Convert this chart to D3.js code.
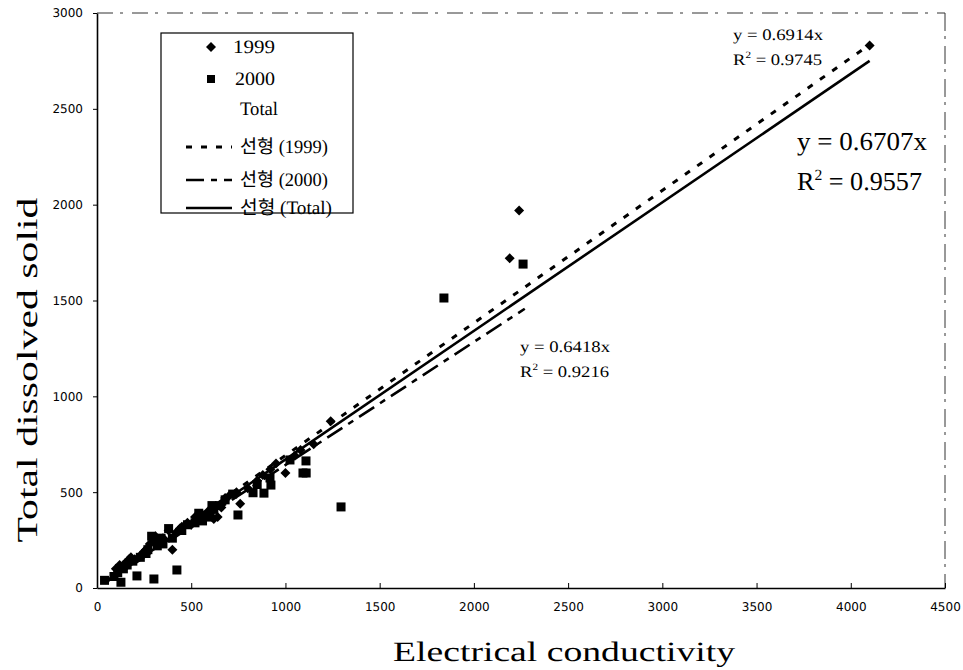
<!DOCTYPE html>
<html><head><meta charset="utf-8">
<script src="https://cdn.jsdelivr.net/npm/d3@7"></script>
<style>body{margin:0;background:#fff} text{text-rendering:geometricPrecision}</style>
</head><body>
<svg id="chart" width="963" height="670"></svg>
<script>
// ---------- data ----------
const xTicks = [0,500,1000,1500,2000,2500,3000,3500,4000,4500];
const yTicks = [0,500,1000,1500,2000,2500,3000];
const ec1999  = [100,120,150,170,200,230,260,280,300,330,350,380,400,420,450,480,500,530,560,590,620,640,660,700,740,760,800,850,880,920,950,1000,1050,1080,1150,1240,2190,2240,4100,180,250,310,360,440,520,600,680];
const tds1999 = [100,120,130,150,150,170,200,230,250,240,260,300,200,290,320,340,330,360,380,400,360,370,420,480,500,440,520,560,590,620,650,600,690,720,750,870,1720,1970,2830,160,190,270,250,310,370,400,470];
const ec2000  = [40,90,110,127,140,160,190,212,230,260,290,302,320,350,400,424,450,480,520,560,580,600,620,650,680,720,748,828,850,886,918,923,1024,1093,1110,1109,1295,1841,2261,270,340,380,540,610];
const tds2000 = [40,60,80,30,100,120,140,63,160,180,270,47,220,230,260,94,300,330,340,350,380,370,410,430,460,490,381,497,540,495,574,537,668,600,600,663,423,1513,1690,200,260,310,390,430];
const slopes = {s1999:0.6914, s2000:0.6418, total:0.6707};
const fitRange = {s1999:[60,4100], s2000:[40,2270], total:[40,4100]};
const legendLabels = ["1999","2000","Total","선형 (1999)","선형 (2000)","선형 (Total)"];
const xTitle = "Electrical conductivity";
const yTitle = "Total dissolved solid";

// ---------- drawing ----------
const svg = d3.select("#chart");
const x = d3.scaleLinear().domain([0,4500]).range([97,945]);
const y = d3.scaleLinear().domain([0,3000]).range([588,13]);
const serif = "'Liberation Serif','Times New Roman',serif";
const sans = "'DejaVu Sans',sans-serif";

// text fitted to a target width by horizontal scaling
function fitText(parent, tx, ty, rot, width, size, anchor, family){
  const g = parent.append("g");
  const t = g.append("text").attr("font-family",family||serif).attr("font-size",size)
    .attr("fill","#000").attr("text-anchor",anchor||"start");
  return {t, done(){
    const w = t.node().getComputedTextLength();
    const s = width / w;
    g.attr("transform",`translate(${tx},${ty}) rotate(${rot}) scale(${s},1)`);
  }};
}

// frame (scanned-looking top & right)
svg.append("line").attr("x1",97).attr("x2",945).attr("y1",13).attr("y2",13)
  .attr("stroke","#333").attr("stroke-width",1).attr("stroke-dasharray","16,7,3,9");
svg.append("line").attr("x1",945).attr("x2",945).attr("y1",13).attr("y2",588)
  .attr("stroke","#333").attr("stroke-width",1).attr("stroke-dasharray","18,5,3,7");

// axes
const fmt = d3.format("d");
const xAxis = d3.axisBottom(x).tickValues(xTicks).tickFormat(fmt).tickSizeInner(-5).tickSizeOuter(0).tickPadding(14);
const gx = svg.append("g").attr("transform","translate(0,588)").call(xAxis);
gx.select(".domain").attr("stroke","#000").attr("stroke-width",1.6);
gx.selectAll(".tick line").attr("stroke","#000");
gx.selectAll("text").attr("font-family",sans).attr("font-size",12).attr("fill","#000");

const yAxis = d3.axisLeft(y).tickValues(yTicks).tickFormat(fmt).tickSizeInner(4).tickSizeOuter(0).tickPadding(10);
const gy = svg.append("g").attr("transform","translate(97,0)").call(yAxis);
gy.select(".domain").attr("stroke","#000").attr("stroke-width",1.6);
gy.selectAll(".tick line").attr("stroke","#000");
gy.selectAll("text").attr("font-family",sans).attr("font-size",12).attr("fill","#000");

// markers
const diamond = (cx,cy,r)=>`M${cx},${cy-r}L${cx+r},${cy}L${cx},${cy+r}L${cx-r},${cy}Z`;
svg.append("g").selectAll("path").data(ec1999.map((v,i)=>[v,tds1999[i]])).join("path")
  .attr("d",d=>diamond(x(d[0]),y(d[1]),5)).attr("fill","#000");
svg.append("g").selectAll("rect").data(ec2000.map((v,i)=>[v,tds2000[i]])).join("rect")
  .attr("x",d=>x(d[0])-4.5).attr("y",d=>y(d[1])-4.5).attr("width",9).attr("height",9).attr("fill","#000");

// trend lines
function trend(key, dash, w){
  const [a,b] = fitRange[key];
  svg.append("line")
    .attr("x1",x(a)).attr("y1",y(a*slopes[key]))
    .attr("x2",x(b)).attr("y2",y(b*slopes[key]))
    .attr("stroke","#000").attr("stroke-width",w)
    .attr("stroke-dasharray",dash);
}
trend("s1999","6,9",3);
trend("s2000","18,7,6,7",2.6);
trend("total",null,2.6);

// annotations
function label(tx, ty, main, r2, size, w1, w2){
  const a = fitText(svg, tx, ty, 0, w1, size); a.t.text(main); a.done();
  const b = fitText(svg, tx, ty+size*1.55, 0, w2, size);
  b.t.append("tspan").text("R");
  b.t.append("tspan").attr("dy",-size*0.4).attr("font-size",size*0.6).text("2");
  b.t.append("tspan").attr("dy",size*0.4).text(" = "+r2);
  b.done();
}
label(733,40,"y = 0.6914x","0.9745",16,90,89);
label(520,352,"y = 0.6418x","0.9216",16,90,89);
label(797,150,"y = 0.6707x","0.9557",26,130,125);

// legend
const lg = svg.append("g");
lg.append("rect").attr("x",161).attr("y",33).attr("width",192).attr("height",180)
  .attr("fill","none").attr("stroke","#000").attr("stroke-width",1.2);
const rowY = [47,79,109,147,180,208];
const txtX = [233,235,240,240,240,240];
const txtW = [42,40,38,88,88,92];
lg.append("path").attr("d",diamond(211,rowY[0],5)).attr("fill","#000");
lg.append("rect").attr("x",207).attr("y",rowY[1]-4).attr("width",8).attr("height",8).attr("fill","#000");
[["6,9",3],["18,7,6,7",2.6],[null,2.6]].forEach((s,i)=>{
  lg.append("line").attr("x1",186).attr("x2",232).attr("y1",rowY[3+i]).attr("y2",rowY[3+i])
    .attr("stroke","#000").attr("stroke-width",s[1]).attr("stroke-dasharray",s[0]);
});
legendLabels.forEach((t,i)=>{
  const f = fitText(lg, txtX[i], rowY[i]+6, 0, txtW[i], 19, "start", serif+",'Noto Sans CJK KR'");
  f.t.text(t); f.done();
});

// axis titles
const xt = fitText(svg, 564, 661, 0, 342, 28, "middle"); xt.t.text(xTitle); xt.done();
const yt = fitText(svg, 37, 370, -90, 345, 29, "middle"); yt.t.text(yTitle); yt.done();
</script>
</body></html>
